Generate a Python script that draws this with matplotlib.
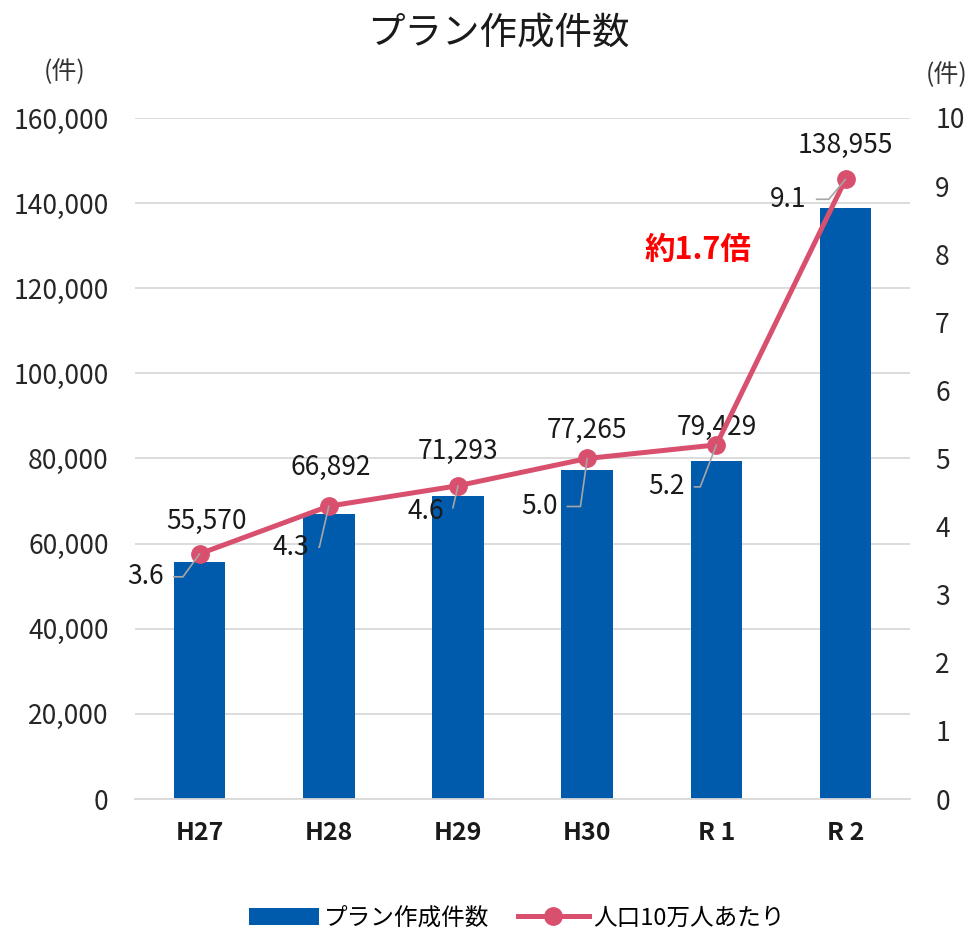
import matplotlib
matplotlib.use("Agg")
import matplotlib.pyplot as plt

plt.rcParams["font.family"] = ["Noto Sans CJK JP", "DejaVu Sans"]

years = ["H27", "H28", "H29", "H30", "R 1", "R 2"]
plans = [55570, 66892, 71293, 77265, 79429, 138955]
per_100k = [3.6, 4.3, 4.6, 5.0, 5.2, 9.1]

# label offsets in pixels (tuned by eye)
bar_lbl_off = [(7, 41), (2, 47), (0, 44), (0, 40), (0, 33), (0, 62)]
line_lbl_off = [(-54, -23), (-38, -41), (-32, -26), (-48, -48), (-50, -42), (-57, -20)]
leader_angle = [54, 77, 77, 82, 69, 50]

bar_color = "#005BAC"
line_color = "#D9506E"
grid_color = "#D9D9D9"

fig = plt.figure(figsize=(9.75, 9.32), dpi=100)
ax = fig.add_axes([0.1385, 0.1427, 0.795, 0.7307])
ax2 = ax.twinx()

x = list(range(len(years)))
bars = ax.bar(x, plans, width=0.4, color=bar_color, label="プラン作成件数", zorder=2)
ax.set_xlim(-0.5, 5.5)
ax.set_ylim(0, 160000)
ax.set_yticks(range(0, 160001, 20000))
ax.set_yticklabels([f"{v:,}" for v in range(0, 160001, 20000)], fontsize=19, color="#262626")
ax.set_xticks(x)
ax.set_xticklabels(years, fontsize=18, fontweight="bold", color="#1a1a1a")
ax.yaxis.grid(True, color=grid_color, linewidth=1.3, zorder=0)
ax.set_axisbelow(True)
ax.tick_params(axis="both", length=0)
ax.tick_params(axis="y", pad=19)
ax.tick_params(axis="x", pad=16)
for s in ["top", "left", "right"]:
    ax.spines[s].set_visible(False)
ax.spines["bottom"].set_color(grid_color)
ax.spines["bottom"].set_linewidth(1.3)

ln, = ax2.plot(x, per_100k, color=line_color, linewidth=3.6, marker="o",
               markersize=12.5, label="人口10万人あたり", zorder=3)
ax2.set_ylim(0, 10)
ax2.set_yticks(range(0, 11))
ax2.set_yticklabels([str(v) for v in range(0, 11)], fontsize=19, color="#262626")
ax2.tick_params(axis="y", length=0, pad=18)
for s in ax2.spines.values():
    s.set_visible(False)

for i, v in enumerate(plans):
    ax.annotate(f"{v:,}", xy=(i, v), xytext=bar_lbl_off[i], textcoords="offset pixels",
                ha="center", va="center", fontsize=19, color="#1a1a1a")

for i, v in enumerate(per_100k):
    ax2.annotate(f"{v:.1f}", xy=(i, v), xytext=line_lbl_off[i], textcoords="offset pixels",
                 ha="center", va="center", fontsize=19, color="#1a1a1a",
                 arrowprops=dict(arrowstyle="-", color="#A6A6A6", linewidth=1.2,
                                 connectionstyle=f"angle,angleA=0,angleB={leader_angle[i]},rad=0",
                                 relpos=(1, 0.5), shrinkA=5, shrinkB=0),
                 zorder=4)

ax2.text(3.86, 8.06, "約1.7倍", color="#FF0000", fontsize=22, fontweight="bold",
         ha="center", va="center")

fig.text(0.511, 1 - 33 / 932, "プラン作成件数", ha="center", va="center", fontsize=27, color="#1a1a1a")
fig.text(65 / 975, 1 - 72 / 932, "(件)", ha="center", va="center", fontsize=18, color="#333333")
fig.text(947 / 975, 1 - 75 / 932, "(件)", ha="center", va="center", fontsize=18, color="#333333")

fig.legend(handles=[bars, ln], loc="center", bbox_to_anchor=(0.53, 1 - 918 / 932), ncol=2,
           frameon=False, fontsize=17, handlelength=3.0, columnspacing=1.2, handletextpad=0.2)

fig.savefig("out.png", dpi=100)
